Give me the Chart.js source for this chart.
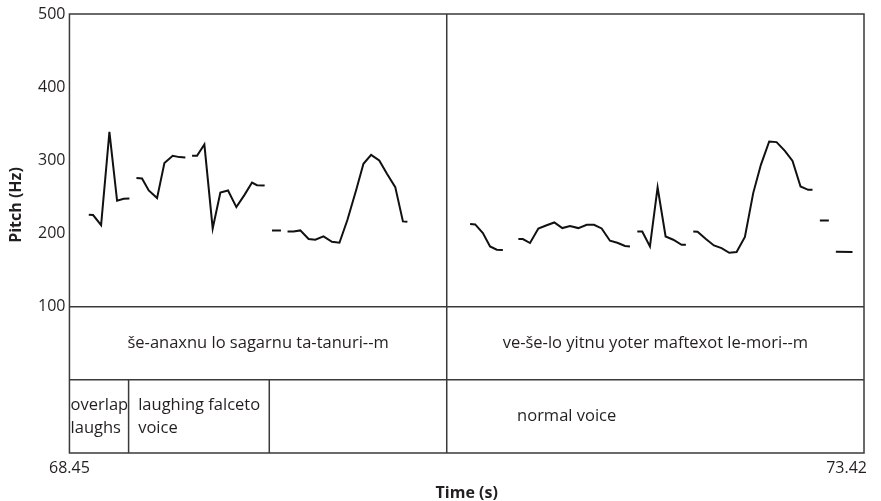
<!DOCTYPE html>
<html>
<head>
<meta charset="utf-8">
<script src="https://cdn.jsdelivr.net/npm/chart.js@4"></script>
<style>
  html, body { margin: 0; padding: 0; background: #fff; }
  #wrap { width: 881px; height: 501px; }
</style>
</head>
<body>
<div id="wrap"><canvas id="pitchChart" width="881" height="501"></canvas></div>
<script>
// Pitch track segments (time in s, pitch in Hz)
const segmentTimes = [
    [68.571, 68.598, 68.648, 68.700, 68.748, 68.789, 68.825],
    [68.869, 68.904, 68.946, 68.998, 69.044, 69.096, 69.138, 69.175],
    [69.217, 69.248, 69.294, 69.346, 69.394, 69.442, 69.494, 69.544, 69.592, 69.623, 69.671],
    [69.717, 69.773],
    [69.814, 69.852, 69.894, 69.946, 69.988, 70.039, 70.092, 70.139, 70.189, 70.244, 70.289, 70.337, 70.388, 70.436, 70.488, 70.536, 70.564],
    [70.956, 70.988, 71.036, 71.081, 71.123, 71.161],
    [71.258, 71.286, 71.331, 71.383, 71.431, 71.483, 71.533, 71.581, 71.633, 71.686, 71.731, 71.779, 71.831, 71.877, 71.925, 71.956],
    [72.002, 72.033, 72.081, 72.129, 72.179, 72.227, 72.279, 72.306],
    [72.352, 72.379, 72.431, 72.481, 72.529, 72.577, 72.623, 72.675, 72.727, 72.775, 72.827, 72.873, 72.925, 72.973, 73.023, 73.071, 73.098],
    [73.144, 73.200],
    [73.244, 73.348]
];
const segmentPitches = [
    [225.6, 225.2, 211.5, 338.9, 244.7, 247.4, 247.8],
    [275.7, 275.2, 258.8, 248.4, 296.2, 306.1, 304.4, 303.9],
    [306.1, 306.1, 321.6, 206.9, 256.0, 258.8, 236.1, 252.5, 269.7, 266.1, 265.6],
    [204.2, 204.2],
    [202.8, 202.8, 204.2, 192.4, 191.5, 196.0, 188.7, 187.4, 218.8, 259.7, 295.2, 307.5, 299.7, 281.6, 263.4, 216.5, 216.0],
    [212.9, 212.4, 200.6, 182.3, 177.8, 177.4],
    [192.4, 192.4, 187.0, 206.9, 211.0, 215.1, 207.4, 210.2, 207.4, 211.9, 211.9, 206.9, 190.1, 187.4, 182.9, 182.3],
    [202.8, 202.8, 182.3, 262.9, 196.0, 191.5, 184.6, 184.6],
    [202.8, 202.4, 192.4, 183.7, 180.1, 173.7, 174.7, 195.2, 255.2, 293.9, 325.7, 324.9, 313.0, 299.3, 264.2, 259.7, 259.7],
    [217.8, 217.8],
    [175.1, 174.7]
];

// Annotation tiers
const tier1Bounds = [68.45, 70.81, 73.42];
const tier1Labels = ['še-anaxnu lo sagarnu ta-tanuri--m', 've-še-lo yitnu yoter maftexot le-mori--m'];
const tier2Bounds = [68.45, 68.82, 69.70, 70.81, 73.42];
const tier2Labels = [['overlap', 'laughs'], ['laughing falceto', 'voice'], [], ['normal voice']];

const timeTicks = [68.45, 73.42];
const pitchTicks = [100, 200, 300, 400, 500];

const FONT = "'Open Sans', sans-serif";
const INK = '#231f20';
const RULE = '#3a3a3a';

const datasets = segmentTimes.map((times, i) => ({
    data: times.map((t, j) => ({ x: t, y: segmentPitches[i][j] })),
    borderColor: '#111',
    borderWidth: 2,
    pointRadius: 0,
    tension: 0,
    fill: false
}));

// Frame, tier rules, tier text and time labels, placed with the chart scales
const tierPlugin = {
    id: 'tiers',
    beforeDatasetsDraw(chart) {
        const { ctx, chartArea: a, scales: { x, y } } = chart;
        ctx.save();
        ctx.strokeStyle = RULE;
        ctx.lineWidth = 1.5;
        ctx.strokeRect(a.left, a.top, a.right - a.left, a.bottom - a.top);
        ctx.beginPath();
        [100, 0].forEach(v => {
            ctx.moveTo(a.left, y.getPixelForValue(v));
            ctx.lineTo(a.right, y.getPixelForValue(v));
        });
        tier1Bounds.slice(1, -1).forEach(t => {
            ctx.moveTo(x.getPixelForValue(t), a.top);
            ctx.lineTo(x.getPixelForValue(t), a.bottom);
        });
        tier2Bounds.slice(1, -1).forEach(t => {
            ctx.moveTo(x.getPixelForValue(t), y.getPixelForValue(0));
            ctx.lineTo(x.getPixelForValue(t), a.bottom);
        });
        ctx.stroke();

        ctx.fillStyle = INK;
        ctx.font = '16.5px ' + FONT;
        ctx.textBaseline = 'middle';
        ctx.textAlign = 'center';
        const t1y = (y.getPixelForValue(100) + y.getPixelForValue(0)) / 2;
        tier1Labels.forEach((lab, i) => {
            const cx = (x.getPixelForValue(tier1Bounds[i]) + x.getPixelForValue(tier1Bounds[i + 1])) / 2;
            ctx.fillText(lab, cx, t1y);
        });

        const t2y = (y.getPixelForValue(0) + y.getPixelForValue(-100)) / 2;
        const labelStarts = [68.457, 68.88, 69.76, 71.25];
        ctx.textAlign = 'left';
        tier2Labels.forEach((lines, i) => {
            const lx = x.getPixelForValue(labelStarts[i]);
            const lh = 23;
            const y0 = t2y - (lines.length - 1) * lh / 2;
            lines.forEach((ln, k) => ctx.fillText(ln, lx, y0 + k * lh));
        });

        // time labels at both ends of the x scale
        ctx.font = '16px ' + FONT;
        timeTicks.forEach((t, i) => {
            ctx.textAlign = i === 0 ? 'center' : 'right';
            ctx.fillText(t.toFixed(2), x.getPixelForValue(t) + (i === 0 ? 0 : 3), 468);
        });

        // axis titles
        ctx.font = 'bold 16px ' + FONT;
        ctx.textAlign = 'center';
        ctx.fillText('Time (s)', (a.left + a.right) / 2, 493);
        ctx.translate(16, 205);
        ctx.rotate(-Math.PI / 2);
        ctx.fillText('Pitch (Hz)', 0, 0);
        ctx.restore();
    }
};

const pitchChart = new Chart(document.getElementById('pitchChart').getContext('2d'), {
    type: 'line',
    data: { datasets },
    options: {
        responsive: false,
        animation: false,
        events: [],
        layout: { autoPadding: false, padding: { left: 34, top: 14, right: 17, bottom: 48 } },
        plugins: { legend: { display: false }, tooltip: { enabled: false } },
        scales: {
            x: {
                type: 'linear',
                min: timeTicks[0],
                max: timeTicks[timeTicks.length - 1],
                grid: { display: false, drawTicks: false },
                border: { display: false },
                afterBuildTicks: axis => { axis.ticks = timeTicks.map(v => ({ value: v })); },
                ticks: { display: false }
            },
            y: {
                min: -100,
                max: 500,
                grid: { display: false, drawTicks: false },
                border: { display: false },
                afterBuildTicks: axis => { axis.ticks = pitchTicks.map(v => ({ value: v })); },
                ticks: {
                    padding: 4,
                    color: INK,
                    font: { family: FONT, size: 16 }
                }
            }
        }
    },
    plugins: [tierPlugin]
});
</script>
</body>
</html>
